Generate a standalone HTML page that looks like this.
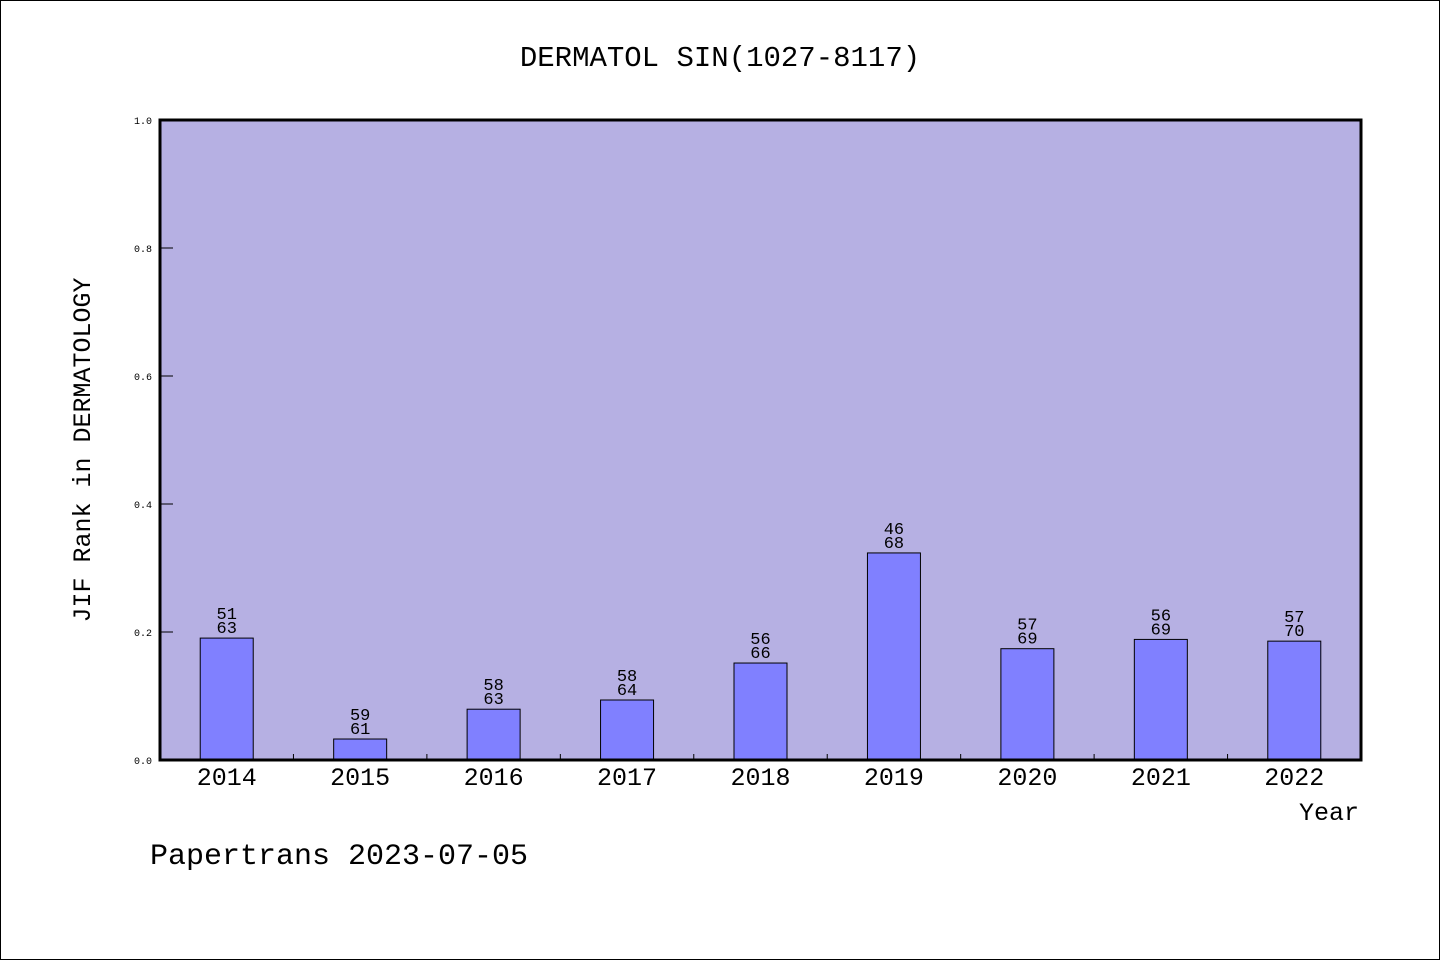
<!DOCTYPE html>
<html><head><meta charset="utf-8"><style>
html,body{margin:0;padding:0;background:#fff}
svg{display:block}
text{font-family:"Liberation Mono","DejaVu Sans Mono",monospace;fill:#000}
</style></head><body>
<svg width="1440" height="960" xmlns="http://www.w3.org/2000/svg">
<rect x="0.5" y="0.5" width="1439" height="959" fill="#fff" stroke="#000"/>
<text x="720" y="66" text-anchor="middle" font-size="29">DERMATOL SIN(1027-8117)</text>
<rect x="160" y="120" width="1201" height="640" fill="#b6b0e3"/>
<g id="yticks"></g>
<g id="bars"></g>
<rect x="160" y="120" width="1201" height="640" fill="none" stroke="#000" stroke-width="3"/>
<text transform="translate(90,450) rotate(-90)" text-anchor="middle" font-size="25">JIF Rank in DERMATOLOGY</text>
<text x="1359" y="820" text-anchor="end" font-size="25">Year</text>
<text x="150" y="864" font-size="30">Papertrans 2023-07-05</text>
<script>
const years=["2014","2015","2016","2017","2018","2019","2020","2021","2022"];
const ranks=[51,59,58,58,56,46,57,56,57];
const totals=[63,61,63,64,66,68,69,69,70];
const yTicks=[0,0.2,0.4,0.6,0.8,1.0];
const NS="http://www.w3.org/2000/svg";
const X0=160,W=1201,Y0=760,H=640;
const step=W/years.length;
const xc=i=>X0+step*(i+0.5);
const ys=v=>Y0-v*H;
function mk(t,a,p){const e=document.createElementNS(NS,t);for(const k in a)e.setAttribute(k,a[k]);p.appendChild(e);return e;}
const yg=document.getElementById('yticks');
yTicks.forEach(v=>{
 const l=mk('line',{x1:X0,x2:X0+13,y1:ys(v),y2:ys(v),stroke:'#000','stroke-width':1},yg);
 
 
 const t=mk('text',{x:X0-8,y:ys(v)+4,'text-anchor':'end','font-size':10},yg);
 t.textContent=v.toFixed(1);
 
 
});
const bg=document.getElementById('bars');
years.forEach((y,i)=>{
 const v=(totals[i]-ranks[i])/totals[i];
 const b=mk('rect',{x:xc(i)-26.5,y:ys(v),width:53,height:Y0-ys(v),fill:'#8080ff',stroke:'#000','stroke-width':1},bg);
 
 
 const t1=mk('text',{x:xc(i),y:ys(v)-19,'text-anchor':'middle','font-size':17},bg);
 t1.textContent=ranks[i];
 
 
 const t2=mk('text',{x:xc(i),y:ys(v)-5,'text-anchor':'middle','font-size':17},bg);
 t2.textContent=totals[i];
 
 
 const xl=mk('text',{x:xc(i),y:785,'text-anchor':'middle','font-size':25},bg);
 xl.textContent=y;
 
 
 if(i>0){const tk=mk('line',{x1:X0+step*i,x2:X0+step*i,y1:Y0,y2:Y0-6,stroke:'#000','stroke-width':1},bg);
 
 }
});
</script>
</svg>
</body></html>
